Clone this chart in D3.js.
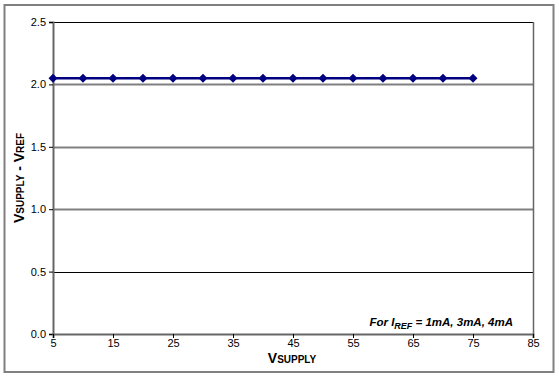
<!DOCTYPE html>
<html>
<head>
<meta charset="UTF-8">
<script src="https://d3js.org/d3.v7.min.js"></script>
<style>
  body { margin: 0; background: #fff; }
  text { font-family: "Liberation Sans", Arial, sans-serif; fill: #000; }
</style>
</head>
<body>
<div id="chart"></div>
<script>
const vSupply = [5, 10, 15, 20, 25, 30, 35, 40, 45, 50, 55, 60, 65, 70, 75];
const vDiff = [2.05, 2.05, 2.05, 2.05, 2.05, 2.05, 2.05, 2.05, 2.05, 2.05, 2.05, 2.05, 2.05, 2.05, 2.05];
const xTicks = [5, 15, 25, 35, 45, 55, 65, 75, 85];
const yTicks = [0, 0.5, 1.0, 1.5, 2.0, 2.5];

const W = 559, H = 378;
const margin = { top: 22, right: 26, bottom: 44, left: 53 };
const iw = W - margin.left - margin.right;
const ih = H - margin.top - margin.bottom;

const svg = d3.select("#chart").append("svg")
  .attr("width", W).attr("height", H);

// outer frame
svg.append("rect")
  .attr("x", 4.5).attr("y", 5).attr("width", 549).attr("height", 367)
  .attr("fill", "none").attr("stroke", "#808080").attr("stroke-width", 2);

const g = svg.append("g").attr("transform", `translate(${margin.left},${margin.top})`);

const x = d3.scaleLinear().domain([5, 85]).range([0, iw]);
const y = d3.scaleLinear().domain([0, 2.5]).range([ih, 0]);

// gridlines
g.selectAll(".grid").data(yTicks.filter(d => d > 0)).enter().append("line")
  .attr("x1", 0).attr("x2", iw)
  .attr("y1", d => Math.round(y(d)) + 0.5).attr("y2", d => Math.round(y(d)) + 0.5)
  .attr("stroke", d => (d === 2.5 || d === 0.5) ? "#000" : "#808080")
  .attr("stroke-width", d => (d === 2.5 || d === 0.5) ? 1 : 2);

// right border of plot
g.append("line")
  .attr("x1", iw + 0.5).attr("x2", iw + 0.5).attr("y1", 0).attr("y2", ih)
  .attr("stroke", "#666").attr("stroke-width", 1.5);

// axes
const yAxis = g.append("g")
  .call(d3.axisLeft(y).tickValues(yTicks).tickFormat(d3.format(".1f")).tickSize(4).tickPadding(3));
const xAxis = g.append("g").attr("transform", `translate(0,${ih})`)
  .call(d3.axisBottom(x).tickValues(xTicks).tickSize(4).tickPadding(1));
[yAxis, xAxis].forEach(a => {
  a.select(".domain").attr("stroke", "#666").attr("stroke-width", 2);
  a.selectAll(".tick line").attr("stroke", "#000");
  a.selectAll("text").style("font-size", "11px").attr("fill", "#000");
});

// series
const pts = vSupply.map((v, i) => [v, vDiff[i]]);
g.append("path").datum(pts)
  .attr("fill", "none").attr("stroke", "#000080").attr("stroke-width", 2.5)
  .attr("d", d3.line().x(d => x(d[0])).y(d => y(d[1])));
g.selectAll(".pt").data(pts).enter().append("path")
  .attr("transform", d => `translate(${x(d[0])},${y(d[1])})`)
  .attr("d", "M0,-4.5L4.5,0L0,4.5L-4.5,0Z")
  .attr("fill", "#000080");

// axis titles
const xt = svg.append("text").attr("x", 292).attr("y", 363)
  .attr("text-anchor", "middle").style("font-size", "14px").style("font-weight", "bold");
xt.append("tspan").text("V");
xt.append("tspan").style("font-size", "10px").text("SUPPLY");

const yt = svg.append("text").attr("transform", "translate(24,178) rotate(-90)")
  .attr("text-anchor", "middle").style("font-size", "14px").style("font-weight", "bold");
yt.append("tspan").text("V");
yt.append("tspan").style("font-size", "10px").text("SUPPLY");
yt.append("tspan").text(" - V");
yt.append("tspan").style("font-size", "10px").text("REF");

// annotation
const ann = svg.append("text").attr("x", 513).attr("y", 326)
  .attr("text-anchor", "end").style("font-size", "11.5px")
  .style("font-weight", "bold").style("font-style", "italic");
ann.append("tspan").text("For I");
ann.append("tspan").attr("dy", 3).style("font-size", "9px").text("REF");
ann.append("tspan").attr("dy", -3).text(" = 1mA, 3mA, 4mA");
</script>
</body>
</html>
